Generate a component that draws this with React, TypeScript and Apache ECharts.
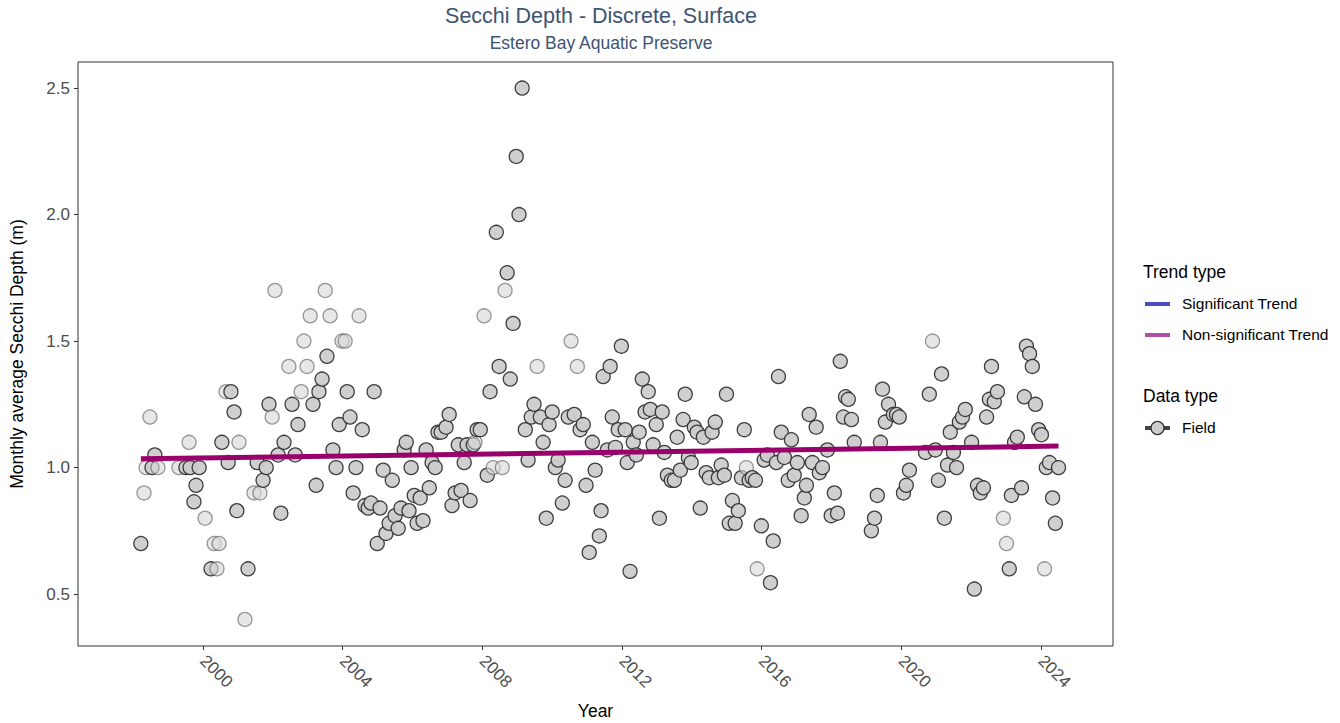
import React, { useEffect, useRef } from "react";
import * as echarts from "echarts";

const title = "Secchi Depth - Discrete, Surface";
const subtitle = "Estero Bay Aquatic Preserve";
const xTicks = [2000, 2004, 2008, 2012, 2016, 2020, 2024];
const yTicks = [0.5, 1.0, 1.5, 2.0, 2.5];

const years = [
  1998.22, 1998.31, 1998.37, 1998.48, 1998.54, 1998.62, 1998.71, 1999.31, 1999.51, 1999.6,
  1999.63, 1999.74, 1999.8, 1999.89, 2000.06, 2000.23, 2000.32, 2000.4, 2000.46, 2000.54,
  2000.66, 2000.72, 2000.8, 2000.89, 2000.97, 2001.03, 2001.2, 2001.29, 2001.46, 2001.55,
  2001.63, 2001.72, 2001.81, 2001.89, 2001.98, 2002.06, 2002.15, 2002.23, 2002.32, 2002.46,
  2002.55, 2002.64, 2002.72, 2002.81, 2002.89, 2002.98, 2003.07, 2003.15, 2003.24, 2003.32,
  2003.41, 2003.5, 2003.55, 2003.64, 2003.72, 2003.81, 2003.9, 2003.98, 2004.07, 2004.13,
  2004.21, 2004.3, 2004.38, 2004.47, 2004.56, 2004.64, 2004.73, 2004.81, 2004.9, 2004.99,
  2005.07, 2005.16, 2005.24, 2005.33, 2005.42, 2005.5, 2005.59, 2005.67, 2005.76, 2005.82,
  2005.9, 2005.96, 2006.05, 2006.13, 2006.22, 2006.3, 2006.39, 2006.48, 2006.56, 2006.65,
  2006.73, 2006.82, 2006.96, 2007.05, 2007.13, 2007.22, 2007.31, 2007.39, 2007.48, 2007.56,
  2007.65, 2007.74, 2007.79, 2007.85, 2007.94, 2008.05, 2008.14, 2008.22, 2008.31, 2008.4,
  2008.48, 2008.57, 2008.65, 2008.71, 2008.8, 2008.88, 2008.97, 2009.05, 2009.14, 2009.23,
  2009.31, 2009.4, 2009.48, 2009.57, 2009.66, 2009.74, 2009.83, 2009.91, 2010.0, 2010.09,
  2010.17, 2010.29, 2010.37, 2010.46, 2010.54, 2010.63, 2010.72, 2010.8, 2010.89, 2010.97,
  2011.06, 2011.15, 2011.23, 2011.35, 2011.4, 2011.46, 2011.58, 2011.66, 2011.72, 2011.81,
  2011.89, 2011.98, 2012.09, 2012.15, 2012.23, 2012.32, 2012.41, 2012.49, 2012.58, 2012.66,
  2012.75, 2012.81, 2012.89, 2012.98, 2013.07, 2013.15, 2013.21, 2013.3, 2013.41, 2013.5,
  2013.58, 2013.67, 2013.75, 2013.81, 2013.9, 2013.98, 2014.07, 2014.15, 2014.24, 2014.33,
  2014.41, 2014.5, 2014.58, 2014.67, 2014.76, 2014.84, 2014.93, 2014.99, 2015.07, 2015.16,
  2015.24, 2015.33, 2015.42, 2015.5, 2015.56, 2015.64, 2015.73, 2015.82, 2015.87, 2015.99,
  2016.07, 2016.16, 2016.25, 2016.33, 2016.42, 2016.48, 2016.56, 2016.65, 2016.76, 2016.85,
  2016.93, 2017.02, 2017.13, 2017.22, 2017.28, 2017.36, 2017.45, 2017.56, 2017.65, 2017.74,
  2017.88, 2017.99, 2018.08, 2018.17, 2018.25, 2018.34, 2018.4, 2018.48, 2018.57, 2018.65,
  2019.14, 2019.23, 2019.31, 2019.4, 2019.46, 2019.54, 2019.63, 2019.77, 2019.86, 2019.94,
  2020.06, 2020.14, 2020.23, 2020.69, 2020.8, 2020.89, 2020.97, 2021.06, 2021.15, 2021.23,
  2021.32, 2021.4, 2021.49, 2021.58, 2021.66, 2021.75, 2021.83, 2022.01, 2022.09, 2022.18,
  2022.26, 2022.35, 2022.44, 2022.52, 2022.58, 2022.66, 2022.75, 2022.92, 2023.01, 2023.09,
  2023.15, 2023.24, 2023.32, 2023.44, 2023.52, 2023.58, 2023.67, 2023.75, 2023.84, 2023.93,
  2024.01, 2024.1, 2024.15, 2024.24, 2024.33, 2024.41, 2024.5,
];

const depths = [
  0.7, 0.9, 1.0, 1.2, 1.0, 1.05, 1.0, 1.0, 1.0, 1.1,
  1.0, 0.865, 0.93, 1.0, 0.8, 0.6, 0.7, 0.6, 0.7, 1.1,
  1.3, 1.02, 1.3, 1.22, 0.83, 1.1, 0.4, 0.6, 0.9, 1.02,
  0.9, 0.95, 1.0, 1.25, 1.2, 1.7, 1.05, 0.82, 1.1, 1.4,
  1.25, 1.05, 1.17, 1.3, 1.5, 1.4, 1.6, 1.25, 0.93, 1.3,
  1.35, 1.7, 1.44, 1.6, 1.07, 1.0, 1.17, 1.5, 1.5, 1.3,
  1.2, 0.9, 1.0, 1.6, 1.15, 0.85, 0.84, 0.86, 1.3, 0.7,
  0.84, 0.99, 0.74, 0.78, 0.95, 0.81, 0.76, 0.84, 1.07, 1.1,
  0.83, 1.0, 0.89, 0.78, 0.88, 0.79, 1.07, 0.92, 1.02, 1.0,
  1.14, 1.14, 1.16, 1.21, 0.85, 0.9, 1.09, 0.91, 1.02, 1.09,
  0.87, 1.09, 1.1, 1.15, 1.15, 1.6, 0.97, 1.3, 1.0, 1.93,
  1.4, 1.0, 1.7, 1.77, 1.35, 1.57, 2.23, 2.0, 2.5, 1.15,
  1.03, 1.2, 1.25, 1.4, 1.2, 1.1, 0.8, 1.17, 1.22, 1.0,
  1.03, 0.86, 0.95, 1.2, 1.5, 1.21, 1.4, 1.15, 1.17, 0.93,
  0.665, 1.1, 0.99, 0.73, 0.83, 1.36, 1.07, 1.4, 1.2, 1.08,
  1.15, 1.48, 1.15, 1.02, 0.59, 1.1, 1.05, 1.14, 1.35, 1.22,
  1.3, 1.23, 1.09, 1.17, 0.8, 1.22, 1.06, 0.97, 0.95, 0.95,
  1.12, 0.99, 1.19, 1.29, 1.04, 1.02, 1.16, 1.14, 0.84, 1.12,
  0.98, 0.96, 1.14, 1.18, 0.96, 1.01, 0.97, 1.29, 0.78, 0.87,
  0.78, 0.83, 0.96, 1.15, 1.0, 0.95, 0.96, 0.95, 0.6, 0.77,
  1.03, 1.05, 0.545, 0.71, 1.02, 1.36, 1.14, 1.04, 0.95, 1.11,
  0.97, 1.02, 0.81, 0.88, 0.93, 1.21, 1.02, 1.16, 0.98, 1.0,
  1.07, 0.81, 0.9, 0.82, 1.42, 1.2, 1.28, 1.27, 1.19, 1.1,
  0.75, 0.8, 0.89, 1.1, 1.31, 1.18, 1.25, 1.21, 1.21, 1.2,
  0.9, 0.93, 0.99, 1.06, 1.29, 1.5, 1.07, 0.95, 1.37, 0.8,
  1.01, 1.14, 1.06, 1.0, 1.18, 1.2, 1.23, 1.1, 0.52, 0.93,
  0.9, 0.92, 1.2, 1.27, 1.4, 1.26, 1.3, 0.8, 0.7, 0.6,
  0.89, 1.1, 1.12, 0.92, 1.28, 1.48, 1.45, 1.4, 1.25, 1.15,
  1.13, 0.6, 1.0, 1.02, 0.88, 0.78, 1.0,
];

// 1 = lighter (fewer observations) point, 0 = regular
const lightFlags = [
  0, 1, 1, 1, 0, 0, 1, 1, 0, 1,
  0, 0, 0, 0, 1, 0, 1, 1, 1, 0,
  1, 0, 0, 0, 0, 1, 1, 0, 1, 0,
  1, 0, 0, 0, 1, 1, 0, 0, 0, 1,
  0, 0, 0, 1, 1, 1, 1, 0, 0, 0,
  0, 1, 0, 1, 0, 0, 0, 1, 1, 0,
  0, 0, 0, 1, 0, 0, 0, 0, 0, 0,
  0, 0, 0, 0, 0, 0, 0, 0, 0, 0,
  0, 0, 0, 0, 0, 0, 0, 0, 0, 0,
  0, 0, 0, 0, 0, 0, 0, 0, 0, 0,
  0, 0, 1, 0, 0, 1, 0, 0, 1, 0,
  0, 1, 1, 0, 0, 0, 0, 0, 0, 0,
  0, 0, 0, 1, 0, 0, 0, 0, 0, 0,
  0, 0, 0, 0, 1, 0, 1, 0, 0, 0,
  0, 0, 0, 0, 0, 0, 0, 0, 0, 0,
  0, 0, 0, 0, 0, 0, 0, 0, 0, 0,
  0, 0, 0, 0, 0, 0, 0, 0, 0, 0,
  0, 0, 0, 0, 0, 0, 0, 0, 0, 0,
  0, 0, 0, 0, 0, 0, 0, 0, 0, 0,
  0, 0, 0, 0, 1, 0, 0, 0, 1, 0,
  0, 0, 0, 0, 0, 0, 0, 0, 0, 0,
  0, 0, 0, 0, 0, 0, 0, 0, 0, 0,
  0, 0, 0, 0, 0, 0, 0, 0, 0, 0,
  0, 0, 0, 0, 0, 0, 0, 0, 0, 0,
  0, 0, 0, 0, 0, 1, 0, 0, 0, 0,
  0, 0, 0, 0, 0, 0, 0, 0, 0, 0,
  0, 0, 0, 0, 0, 0, 0, 1, 1, 0,
  0, 0, 0, 0, 0, 0, 0, 0, 0, 0,
  0, 1, 0, 0, 0, 0, 0,
];

const trendYears = [1998.22, 2024.5];
const trendValues = [1.035, 1.085];

const X_MIN = 1996.42;
const X_MAX = 2026.06;
const Y_MIN = 0.295;
const Y_MAX = 2.603;

export default function App() {
  const ref = useRef<HTMLDivElement>(null);

  useEffect(() => {
    document.body.style.margin = "0";
    if (!ref.current) return;
    const chart = echarts.init(ref.current, undefined, { renderer: "svg" });

    const points = years.map((yr, i) => ({
      value: [yr, depths[i]],
      itemStyle: lightFlags[i]
        ? { color: "#d9d9d9", borderColor: "#5a5a5a", opacity: 0.62 }
        : { color: "#cccccc", borderColor: "#333333", opacity: 0.95 },
    }));

    const txt = "Arial, 'Liberation Sans', sans-serif";

    chart.setOption({
      animation: false,
      backgroundColor: "#ffffff",
      textStyle: { fontFamily: txt },
      title: [
        {
          text: title,
          left: 596,
          top: 0,
          textAlign: "center",
          textStyle: { fontSize: 21.5, fontWeight: "normal", color: "#3d5473", fontFamily: txt },
        },
        {
          text: subtitle,
          left: 596,
          top: 29,
          textAlign: "center",
          textStyle: { fontSize: 17.5, fontWeight: "normal", color: "#3d5473", fontFamily: txt },
        },
      ],
      grid: {
        left: 78,
        right: 227,
        top: 62,
        bottom: 77,
        containLabel: false,
        outerBoundsMode: "none",
        show: true,
        borderColor: "#333333",
        borderWidth: 1,
      },
      xAxis: {
        type: "value",
        min: X_MIN,
        max: X_MAX,
        name: "Year",
        nameLocation: "middle",
        nameGap: 56,
        nameTextStyle: { fontSize: 17.5, color: "#000000", fontFamily: txt },
        splitLine: { show: false },
        axisLine: { show: false },
        axisTick: { show: true, length: 4, customValues: xTicks, lineStyle: { color: "#333333" } },
        axisLabel: {
          customValues: xTicks,
          rotate: -45,
          fontSize: 17,
          color: "#4d4d4d",
          margin: 12,
          fontFamily: txt,
          formatter: (v: number) => String(Math.round(v)),
        },
      },
      yAxis: {
        type: "value",
        min: Y_MIN,
        max: Y_MAX,
        name: "Monthly average Secchi Depth (m)",
        nameLocation: "middle",
        nameGap: 52,
        nameTextStyle: { fontSize: 17.5, color: "#000000", fontFamily: txt },
        splitLine: { show: false },
        axisLine: { show: false },
        axisTick: { show: true, length: 4, customValues: yTicks, lineStyle: { color: "#333333" } },
        axisLabel: {
          customValues: yTicks,
          fontSize: 17,
          color: "#4d4d4d",
          margin: 8,
          fontFamily: txt,
          formatter: (v: number) => v.toFixed(1),
        },
      },
      series: [
        {
          type: "scatter",
          name: "Field",
          symbol: "circle",
          symbolSize: 14,
          itemStyle: { borderWidth: 1.3 },
          data: points,
          z: 2,
        },
        {
          type: "line",
          name: "Non-significant Trend",
          data: trendYears.map((y, i) => [y, trendValues[i]]),
          symbol: "none",
          lineStyle: { color: "#99006b", width: 5 },
          z: 3,
        },
      ],
      graphic: [
        { type: "text", left: 1143, top: 263, style: { text: "Trend type", fontSize: 17.5, fill: "#000", fontFamily: txt } },
        { type: "line", shape: { x1: 1145, y1: 304, x2: 1170, y2: 304 }, style: { stroke: "#4c4cbf", lineWidth: 4 } },
        { type: "text", left: 1182, top: 295, style: { text: "Significant Trend", fontSize: 15.5, fill: "#000", fontFamily: txt } },
        { type: "line", shape: { x1: 1145, y1: 335, x2: 1170, y2: 335 }, style: { stroke: "#b0509f", lineWidth: 4 } },
        { type: "text", left: 1182, top: 326, style: { text: "Non-significant Trend", fontSize: 15.5, fill: "#000", fontFamily: txt } },
        { type: "text", left: 1143, top: 387, style: { text: "Data type", fontSize: 17.5, fill: "#000", fontFamily: txt } },
        { type: "line", shape: { x1: 1145, y1: 428, x2: 1170, y2: 428 }, style: { stroke: "#444444", lineWidth: 4 } },
        { type: "circle", shape: { cx: 1157.5, cy: 428, r: 6.5 }, style: { fill: "#cccccc", stroke: "#333333", lineWidth: 1.3 } },
        { type: "text", left: 1182, top: 419, style: { text: "Field", fontSize: 15.5, fill: "#000", fontFamily: txt } },
      ],
    });

    return () => chart.dispose();
  }, []);

  return <div ref={ref} style={{ width: 1340, height: 723 }} />;
}
